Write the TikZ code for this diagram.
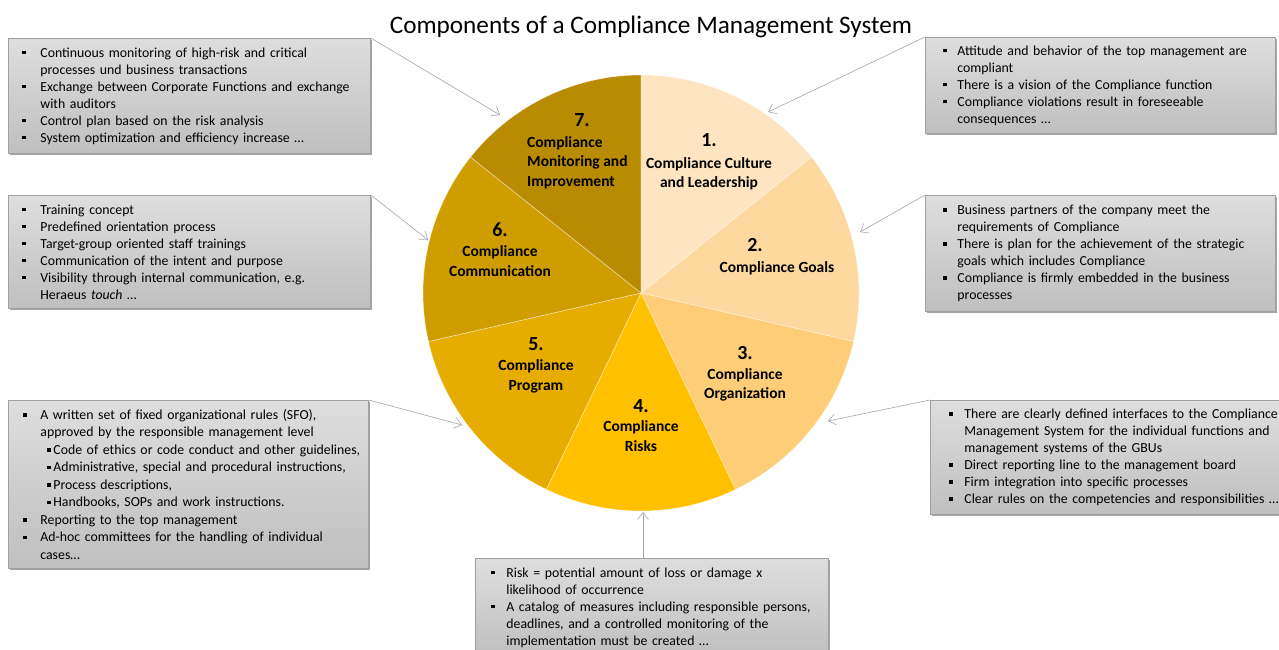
\documentclass[tikz,border=0pt]{standalone}
\usepackage{fontspec}
\setmainfont{Carlito}
\usetikzlibrary{arrows.meta,shadows}
\definecolor{c1}{HTML}{FEE4C1}
\definecolor{c2}{HTML}{FDD9A0}
\definecolor{c3}{HTML}{FDCD77}
\definecolor{c4}{HTML}{FFC000}
\definecolor{c5}{HTML}{E6AC00}
\definecolor{c6}{HTML}{D09D00}
\definecolor{c7}{HTML}{B98B00}
\definecolor{boxtop}{HTML}{DEDEDE}
\definecolor{boxbot}{HTML}{BFBFBF}
\definecolor{boxedge}{HTML}{A0A0A0}
\definecolor{arrowgray}{HTML}{A6A6A6}
\newlength{\bg}
\newcommand{\bul}{\rule[2.6pt]{3.7pt}{3.7pt}}
\newcommand{\bitem}[1]{\mbox{\makebox[\bg][l]{\bul}#1}}
\newcommand{\bcont}[1]{\mbox{\hspace*{\bg}#1}}
\newcommand{\bsub}[1]{\mbox{\hspace*{\bg}\hspace*{7pt}\makebox[6pt][l]{\bul}#1}}
\tikzset{
  infobox/.style={draw=boxedge, line width=0.8pt, top color=boxtop, bottom color=boxbot,
    anchor=north west, align=left, inner ysep=0pt,
    font=\fontsize{13.8}{17}\selectfont,
    drop shadow={shadow xshift=1.5pt, shadow yshift=-1.5pt, opacity=0.35, fill=black}},
  wedge/.style={draw=white, draw opacity=0.5, line width=0.6pt},
  numlabel/.style={font=\bfseries\fontsize{20}{23}\selectfont, inner sep=0pt, anchor=north},
  wlabel/.style={font=\bfseries\fontsize{15.5}{19.3}\selectfont, inner sep=0pt, align=center, anchor=base},
  pointer/.style={draw=arrowgray, line width=0.6pt, -{Straight Barb[length=7pt,width=11pt,line width=0.6pt]}}
}
\begin{document}
\begin{tikzpicture}[x=1pt,y=-1pt]
\useasboundingbox (0,0) rectangle (1279,650);
\fill[white] (0,0) rectangle (1279,650);
\clip (0,0) rectangle (1279,650);

\node[font=\fontsize{25.2}{29}\selectfont, inner sep=0pt, anchor=base] (title) at (651,34) {Components of a Compliance Management System};

% pie
\coordinate (C) at (641,293);
\foreach \i/\col in {1/c1,2/c2,3/c3,4/c4,5/c5,6/c6,7/c7}{
  \pgfmathsetmacro\sa{-90+(\i-1)*360/7}
  \pgfmathsetmacro\ea{-90+\i*360/7}
  \filldraw[fill=\col, wedge] (C) -- ++(\sa:218) arc[start angle=\sa, end angle=\ea, radius=218] -- cycle;
}

% wedge labels (base = baseline of last line)
\node[numlabel] (n1) at (709,133) {1.};
\node[wlabel] (l1) at (709,187.3) {Compliance Culture\\and Leadership};
\node[numlabel] (n2) at (755,238) {2.};
\node[wlabel] (l2) at (777,272.3) {Compliance Goals};
\node[numlabel] (n3) at (745,346) {3.};
\node[wlabel] (l3) at (745,398.3) {Compliance\\Organization};
\node[numlabel] (n4) at (641,399) {4.};
\node[wlabel] (l4) at (641,451) {Compliance\\Risks};
\node[numlabel] (n5) at (536,337) {5.};
\node[wlabel] (l5) at (536,390) {Compliance\\Program};
\node[numlabel] (n6) at (500,223) {6.};
\node[wlabel] (l6) at (500,276) {Compliance\\Communication};
\node[numlabel] (n7) at (582,113) {7.};
\node[wlabel, align=left, anchor=base west] (l7) at (527,186) {Compliance\\Monitoring and\\Improvement};

% info boxes
\node[infobox, minimum width=362pt, minimum height=115pt, inner xsep=14pt, text width=334pt] (b7) at (8,38) {\setlength{\bg}{18pt}%
\bitem{Continuous monitoring of high-risk and critical}\\
\bcont{processes und business transactions}\\
\bitem{Exchange between Corporate Functions and exchange}\\
\bcont{with auditors}\\
\bitem{Control plan based on the risk analysis}\\
\bitem{System optimization and efficiency increase …}};

\node[infobox, minimum width=350pt, minimum height=96pt, inner xsep=18pt, text width=314pt] (b1) at (925,37) {\setlength{\bg}{14pt}%
\bitem{Attitude and behavior of the top management are}\\
\bcont{compliant}\\
\bitem{There is a vision of the Compliance function}\\
\bitem{Compliance violations result in foreseeable}\\
\bcont{consequences …}};

\node[infobox, minimum width=362pt, minimum height=113pt, inner xsep=14pt, text width=334pt] (b6) at (8,195) {\setlength{\bg}{18pt}%
\bitem{Training concept}\\
\bitem{Predefined orientation process}\\
\bitem{Target-group oriented staff trainings}\\
\bitem{Communication of the intent and purpose}\\
\bitem{Visibility through internal communication, e.g.}\\
\bcont{Heraeus \textit{touch} …}};

\node[infobox, minimum width=350pt, minimum height=116pt, inner xsep=18pt, text width=314pt] (b2) at (925,195) {\setlength{\bg}{14pt}%
\bitem{Business partners of the company meet the}\\
\bcont{requirements of Compliance}\\
\bitem{There is plan for the achievement of the strategic}\\
\bcont{goals which includes Compliance}\\
\bitem{Compliance is firmly embedded in the business}\\
\bcont{processes}};

\node[infobox, minimum width=360pt, minimum height=168pt, inner xsep=15pt, text width=330pt, font=\fontsize{13.8}{17.5}\selectfont] (b5) at (8,400) {\setlength{\bg}{17pt}%
\bitem{A written set of fixed organizational rules (SFO),}\\
\bcont{approved by the responsible management level}\\
\bsub{Code of ethics or code conduct and other guidelines,}\\
\bsub{Administrative, special and procedural instructions,}\\
\bsub{Process descriptions,}\\
\bsub{Handbooks, SOPs and work instructions.}\\
\bitem{Reporting to the top management}\\
\bitem{Ad-hoc committees for the handling of individual}\\
\bcont{cases…}};

\node[infobox, minimum width=362pt, minimum height=114pt, inner xsep=19pt, text width=324pt] (b3) at (930,400) {\setlength{\bg}{15pt}%
\bitem{There are clearly defined interfaces to the Compliance}\\
\bcont{Management System for the individual functions and}\\
\bcont{management systems of the GBUs}\\
\bitem{Direct reporting line to the management board}\\
\bitem{Firm integration into specific processes}\\
\bitem{Clear rules on the competencies and responsibilities …}};

\node[infobox, minimum width=353pt, minimum height=98pt, inner xsep=16pt, text width=321pt] (b4) at (475,558) {\setlength{\bg}{15pt}%
\bitem{Risk = potential amount of loss or damage x}\\
\bcont{likelihood of occurrence}\\
\bitem{A catalog of measures including responsible persons,}\\
\bcont{deadlines, and a controlled monitoring of the}\\
\bcont{implementation must be created …}};

% pointers
\coordinate (t7) at (500,115);
\coordinate (t1) at (768,112);
\coordinate (t2) at (860,232);
\coordinate (t6) at (428,240);
\coordinate (t5) at (462,425);
\coordinate (t3) at (828,421);
\coordinate (t4) at (643,512);
\draw[pointer] (b7.north east) -- (t7);
\draw[pointer] (b1.north west) -- (t1);
\draw[pointer] (b2.north west) -- (t2);
\draw[pointer] (b6.north east) -- (t6);
\draw[pointer] (b5.north east) -- (t5);
\draw[pointer] (b3.north west) -- (t3);
\draw[pointer] (b4.north -| t4) -- (t4);
\end{tikzpicture}
\end{document}
